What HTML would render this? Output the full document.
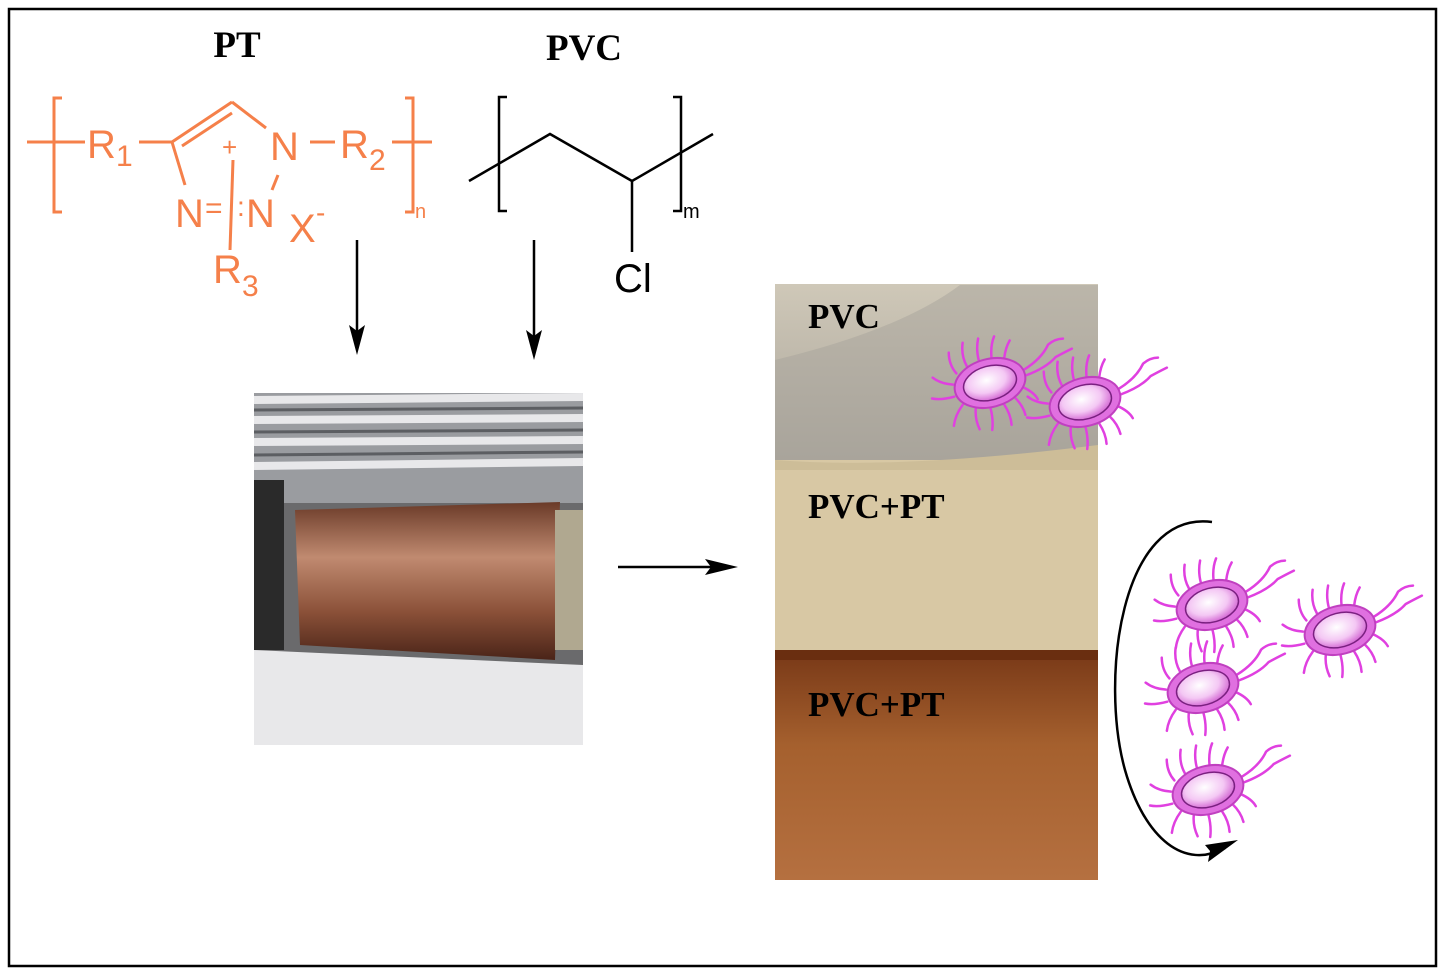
<!DOCTYPE html>
<html><head><style>
html,body{margin:0;padding:0;background:#fff;width:1445px;height:975px;overflow:hidden}
</style></head><body>
<svg width="1445" height="975" viewBox="0 0 1445 975" xmlns="http://www.w3.org/2000/svg">
<defs>
<radialGradient id="bod" cx="0.45" cy="0.4" r="0.6"><stop offset="0" stop-color="#fff"/><stop offset="0.6" stop-color="#f4c8f4"/><stop offset="1" stop-color="#d46ad4"/></radialGradient>
<linearGradient id="roll" x1="0" y1="0" x2="0" y2="1"><stop offset="0" stop-color="#6a3a28"/><stop offset="0.35" stop-color="#c08a70"/><stop offset="0.7" stop-color="#8a5038"/><stop offset="1" stop-color="#4a2418"/></linearGradient>
<linearGradient id="pvc" x1="0" y1="0" x2="0" y2="1"><stop offset="0" stop-color="#cfc8b8"/><stop offset="1" stop-color="#a9a49a"/></linearGradient>
<linearGradient id="brn" x1="0" y1="0" x2="0" y2="1"><stop offset="0" stop-color="#7a3a18"/><stop offset="0.4" stop-color="#a5602e"/><stop offset="1" stop-color="#b57040"/></linearGradient>
<g id="bac" stroke="#e040e0" stroke-width="2.5" fill="none" stroke-linecap="round">
<path d="M-30,-18 q-5,-10 -2,-22 M-18,-22 q-3,-12 2,-24 M-5,-24 q0,-12 5,-22 M8,-24 q2,-12 8,-20 M20,-20 q4,-10 10,-16 M-36,-8 q-12,-4 -18,-12 M-38,4 q-14,0 -22,-4 M-32,14 q-10,8 -14,18 M-20,20 q-4,10 -2,22 M-6,24 q0,12 -4,22 M8,24 q4,12 2,22 M20,20 q6,10 6,20 M30,12 q10,8 12,16 M36,-4 q20,-6 30,-18 q8,-4 16,-2 M36,2 q22,-2 34,-10 q8,-2 18,-4"/>
<ellipse cx="0" cy="0" rx="36" ry="24" fill="#e070e0" stroke="#c040c0" stroke-width="2"/>
<ellipse cx="0" cy="0" rx="27" ry="17" fill="url(#bod)" stroke="#7a2080" stroke-width="1.5"/>
</g>
</defs>
<rect x="9" y="9" width="1427" height="957" fill="none" stroke="#000" stroke-width="2.5"/>
<text x="237" y="57" font-family="Liberation Serif" font-weight="bold" font-size="37" text-anchor="middle">PT</text>
<text x="584" y="60" font-family="Liberation Serif" font-weight="bold" font-size="37" text-anchor="middle">PVC</text>
<g stroke="#f5804a" stroke-width="3" fill="none">
<path d="M62,98 h-8 v114 h8"/><path d="M405,98 h8 v114 h-8"/>
<line x1="27" y1="142" x2="85" y2="142"/><line x1="139" y1="142" x2="172" y2="142"/>
<line x1="392" y1="142" x2="432" y2="142"/>
<line x1="172" y1="142" x2="232" y2="102"/><line x1="182" y1="146" x2="232" y2="113"/>
<line x1="232" y1="102" x2="266" y2="128"/>
<line x1="172" y1="142" x2="185" y2="185"/>
<line x1="278" y1="175" x2="272" y2="190"/>
<line x1="310" y1="142" x2="335" y2="142"/>
<line x1="233" y1="160" x2="230" y2="250"/>
</g>
<g font-family="Liberation Sans" fill="#f5804a" font-size="40">
<text x="87" y="158">R</text><text x="116" y="166" font-size="30">1</text>
<text x="270" y="160">N</text>
<text x="340" y="158">R</text><text x="369" y="170" font-size="30">2</text>
<text x="175" y="227">N</text><text x="205" y="218" font-size="30">=</text><text x="237" y="216" font-size="28">:</text>
<text x="246" y="227">N</text>
<text x="289" y="242">X</text><text x="316" y="222" font-size="28">-</text>
<text x="222" y="156" font-size="26">+</text>
<text x="213" y="283">R</text><text x="242" y="296" font-size="30">3</text>
<text x="415" y="218" font-size="20">n</text>
</g>
<g stroke="#000" stroke-width="2.5" fill="none">
<path d="M507,97 h-8 v114 h8"/><path d="M673,97 h8 v114 h-8"/>
<polyline points="469,181 550,134 632,181 713,134"/>
<line x1="632" y1="181" x2="632" y2="252"/>
</g>
<text x="614" y="292" font-family="Liberation Sans" font-size="40">Cl</text>
<text x="683" y="218" font-family="Liberation Sans" font-size="20">m</text>
<g stroke="#000" stroke-width="2.5">
<line x1="357" y1="240" x2="357" y2="335"/><line x1="534" y1="240" x2="534" y2="340"/>
<line x1="618" y1="567" x2="715" y2="567"/>
</g>
<polygon points="349,325 357,355 365,325 357,331" fill="#000"/>
<polygon points="526,330 534,360 542,330 534,336" fill="#000"/>
<polygon points="705,559 738,567 705,575 711,567" fill="#000"/>
<rect x="254" y="393" width="329" height="352" fill="#6a6a6c"/>
<rect x="254" y="393" width="329" height="110" fill="#9a9ca0"/>
<g stroke="#e8e8ea" stroke-width="8"><line x1="254" y1="400" x2="583" y2="397"/><line x1="254" y1="420" x2="583" y2="418"/><line x1="254" y1="442" x2="583" y2="440"/><line x1="254" y1="466" x2="583" y2="462"/></g>
<g stroke="#5c5e62" stroke-width="3"><line x1="254" y1="410" x2="583" y2="408"/><line x1="254" y1="432" x2="583" y2="430"/><line x1="254" y1="455" x2="583" y2="452"/></g>
<path d="M254,650 L583,665 V745 H254 Z" fill="#e8e8ea"/>
<rect x="254" y="480" width="30" height="170" fill="#2a2a2a"/>
<path d="M295,510 L560,502 L555,660 L300,645 Z" fill="url(#roll)"/>
<rect x="555" y="510" width="28" height="140" fill="#b0a890"/>
<rect x="775" y="284" width="323" height="180" fill="url(#pvc)"/>
<path d="M775,360 Q900,330 960,285 L1098,285 V460 H775 Z" fill="#a8a49c" opacity="0.5"/>
<rect x="775" y="460" width="323" height="195" fill="#d8c8a4"/>
<path d="M775,460 Q900,470 1098,445 V470 H775 Z" fill="#cdbd98"/>
<rect x="775" y="655" width="323" height="225" fill="url(#brn)"/>
<rect x="775" y="650" width="323" height="10" fill="#6a2e10"/>
<g font-family="Liberation Serif" font-weight="bold" font-size="35" fill="#000">
<text x="808" y="328">PVC</text><text x="808" y="518">PVC+PT</text><text x="808" y="716">PVC+PT</text>
</g>
<use href="#bac" transform="translate(990,383) rotate(-15)"/>
<use href="#bac" transform="translate(1085,402) rotate(-15)"/>
<use href="#bac" transform="translate(1212,605) rotate(-15)"/>
<use href="#bac" transform="translate(1340,630) rotate(-15)"/>
<use href="#bac" transform="translate(1203,688) rotate(-15)"/>
<use href="#bac" transform="translate(1208,790) rotate(-15)"/>
<path d="M1212,522 C1120,510 1100,680 1125,770 C1145,840 1185,870 1225,848" fill="none" stroke="#000" stroke-width="2.5"/>
<polygon points="1208,862 1238,840 1205,845 1210,851" fill="#000"/>
</svg>
</body></html>
